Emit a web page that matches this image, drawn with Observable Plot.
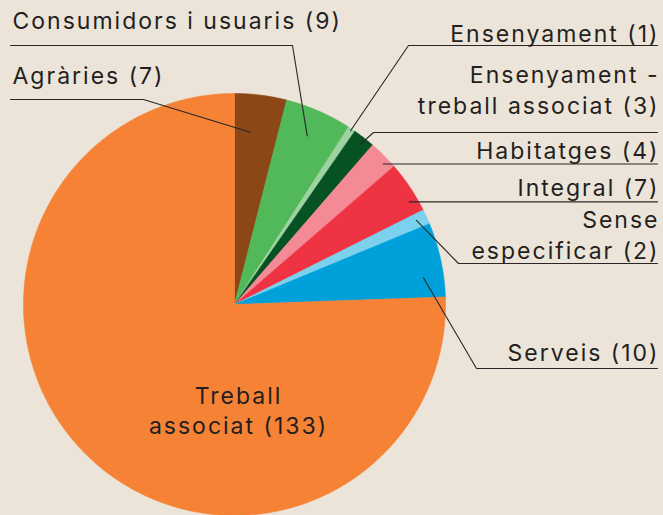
<!DOCTYPE html>
<html><head><meta charset="utf-8">
<script src="https://cdn.jsdelivr.net/npm/d3@7"></script>
<script src="https://cdn.jsdelivr.net/npm/@observablehq/plot@0.6"></script>
<style>
html,body{margin:0;padding:0;background:#ece4d9;}
#chart svg{display:block;}
</style>
</head><body><div id="chart"></div>
<script>
// ---- data ----
const categories = ["Agràries","Consumidors i usuaris","Ensenyament","Ensenyament - treball associat","Habitatges","Integral","Sense especificar","Serveis","Treball associat"];
const counts = [7, 9, 1, 3, 4, 7, 2, 10, 133];
const labelLines = [
  ["Agràries (7)"],
  ["Consumidors i usuaris (9)"],
  ["Ensenyament (1)"],
  ["Ensenyament -", "treball associat (3)"],
  ["Habitatges (4)"],
  ["Integral (7)"],
  ["Sense", "especificar (2)"],
  ["Serveis (10)"],
  ["Treball", "associat (133)"]
];

// ---- styles ----
const colors = ["#8c4716","#52b95b","#9dd3a0","#075222","#f48a95","#ee3442","#7bd1ee","#00a0db","#f58235"];
const bg = "#ece4d9";
const ink = "#231f20";
const FONT = "Inter";
const FS = 23;
const LS = 2; // letter spacing px

// ---- layout (pixel space) ----
const W = 663, H = 515;
const center = [234, 304], R = 211;
const layout = [
  {t: 0.37, r: 0.82, elbow: [143, 99], endX: 10, side: "start", tx: 12, base: [83]},
  {t: 0.49, r: 0.87, elbow: [292, 45], endX: 10, side: "start", tx: 12, base: [28]},
  {t: 0.50, r: 0.99, elbow: [408, 45], endX: 657, side: "end", tx: 659, base: [41]},
  {t: 0.54, r: 0.96, elbow: [373, 132], endX: 657, side: "end", tx: 659, base: [82, 113]},
  {t: 0.70, r: 0.97, elbow: null, endX: 657, side: "end", tx: 659, base: [158]},
  {t: 0.73, r: 0.96, elbow: null, endX: 657, side: "end", tx: 659, base: [195]},
  {t: 0.44, r: 0.95, elbow: [458, 263], endX: 657, side: "end", tx: 659, base: [227, 258]},
  {t: 0.71, r: 0.905, elbow: [476, 368], endX: 657, side: "end", tx: 659, base: [360]},
  {t: null, side: "middle", tx: 238, base: [403, 433]}
];

// ---- build pie geometry ----
const arcs = d3.pie().sort(null).value(d => d)(counts);
const pt = (a, rr) => [center[0] + rr * Math.sin(a), center[1] - rr * Math.cos(a)];

const slicePts = [];
arcs.forEach((a, i) => {
  const name = categories[i];
  slicePts.push({name, x: center[0], y: center[1]});
  const n = Math.max(4, Math.ceil((a.endAngle - a.startAngle) / 0.005));
  for (let k = 0; k <= n; k++) {
    const ang = a.startAngle + (a.endAngle - a.startAngle) * k / n;
    const [x, y] = pt(ang, R);
    slicePts.push({name, x, y});
  }
  slicePts.push({name, x: center[0], y: center[1]});
});

const leaderPts = [];
const textRows = [];
arcs.forEach((a, i) => {
  const L = layout[i];
  const name = categories[i];
  if (L.t !== null) {
    const ang = a.startAngle + (a.endAngle - a.startAngle) * L.t;
    const [ax, ay] = pt(ang, R * L.r);
    leaderPts.push({name, x: ax, y: ay});
    if (L.elbow) {
      leaderPts.push({name, x: L.elbow[0], y: L.elbow[1]});
      leaderPts.push({name, x: L.endX, y: L.elbow[1]});
    } else {
      leaderPts.push({name, x: L.endX, y: ay});
    }
  }
  labelLines[i].forEach((line, j) => {
    textRows.push({side: L.side, text: line, x: L.tx, y: L.base[j] - 0.32 * FS});
  });
});

const textMark = side => Plot.text(textRows.filter(d => d.side === side), {
  x: "x", y: "y", text: "text", textAnchor: side, fontSize: FS, fontFamily: FONT, fill: ink
});

const chart = Plot.plot({
  width: W, height: H,
  margin: 0,
  style: {background: bg, overflow: "visible", letterSpacing: LS + "px"},
  x: {domain: [0, W], axis: null},
  y: {domain: [H, 0], axis: null},
  color: {domain: categories, range: colors},
  marks: [
    Plot.line(slicePts, {x: "x", y: "y", z: "name", fill: "name", stroke: "name", strokeWidth: 0.6, curve: "linear"}),
    Plot.line(leaderPts, {x: "x", y: "y", z: "name", stroke: "#2a2627", strokeWidth: 1.1, curve: "linear"}),
    textMark("start"),
    textMark("end"),
    textMark("middle")
  ]
});
document.getElementById("chart").appendChild(chart);
</script>
</body></html>
